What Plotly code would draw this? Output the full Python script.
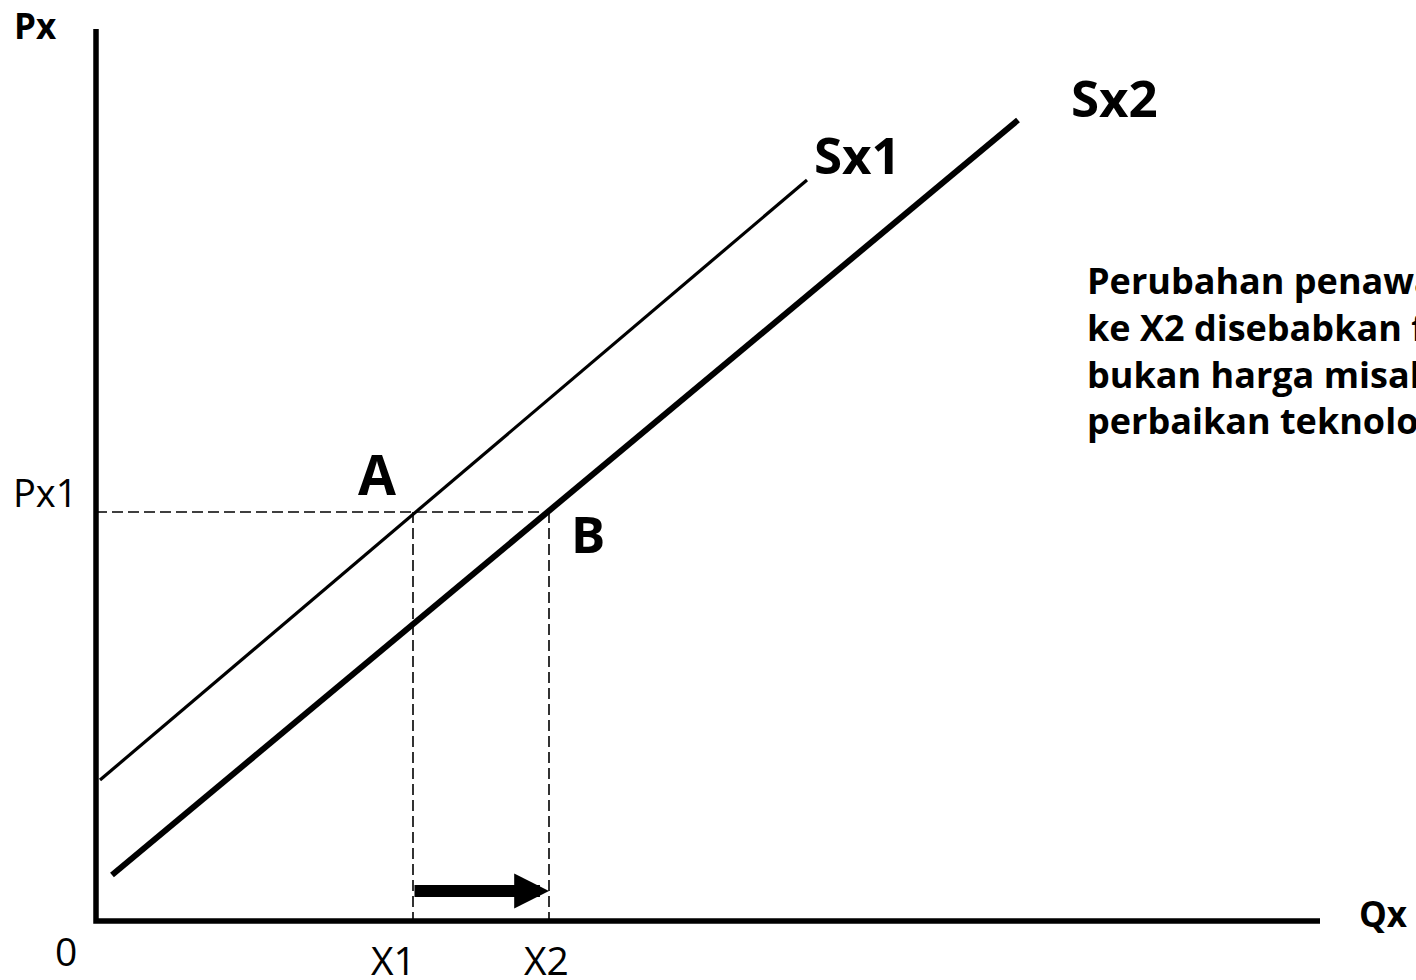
import plotly.graph_objects as go

# supply shift diagram (units: 1 = 100 px on screen, origin at the axes corner)
q_axis_max = 12.24
p_axis_max = 8.92

sx1_q = [0.04, 7.11]
sx1_p = [1.41, 7.41]
sx2_q = [0.16, 9.22]
sx2_p = [0.46, 8.01]

x1 = 3.17
x2 = 4.53
px1 = 4.09
arrow_p = 0.30

paragraph = [
    "Perubahan penawaran dari X1",
    "ke X2 disebabkan faktor",
    "bukan harga misalnya",
    "perbaikan teknologi",
]

FONT = "Open Sans"
BLACK = "#000000"

fig = go.Figure()

# axes drawn as a single L-shaped line
fig.add_trace(go.Scatter(x=[0, 0, q_axis_max], y=[p_axis_max, 0, 0], mode="lines",
                         line=dict(color=BLACK, width=5.5), hoverinfo="skip"))

# guide lines
dash = "11px,5px"
fig.add_trace(go.Scatter(x=[0, x2], y=[px1, px1], mode="lines",
                         line=dict(color=BLACK, width=1.6, dash=dash), hoverinfo="skip"))
for xv in (x1, x2):
    fig.add_trace(go.Scatter(x=[xv, xv], y=[px1, 0], mode="lines",
                             line=dict(color=BLACK, width=1.6, dash=dash), hoverinfo="skip"))

# supply curves
fig.add_trace(go.Scatter(x=sx1_q, y=sx1_p, mode="lines",
                         line=dict(color=BLACK, width=3.2), hoverinfo="skip"))
fig.add_trace(go.Scatter(x=sx2_q, y=sx2_p, mode="lines",
                         line=dict(color=BLACK, width=6), hoverinfo="skip"))

# shift arrow X1 -> X2
fig.add_annotation(x=x2, y=arrow_p, ax=x1, ay=arrow_p, xref="x", yref="y",
                   axref="x", ayref="y", text="", showarrow=True,
                   arrowhead=2, arrowsize=0.58, arrowwidth=12, arrowcolor=BLACK,
                   standoff=0, startstandoff=0)


def label(x, y, text, size, bold=True, **kw):
    fig.add_annotation(x=x, y=y, xref="x", yref="y", text=f"<b>{text}</b>" if bold else text,
                       showarrow=False, font=dict(family=FONT, size=size, color=BLACK), **kw)


label(-0.61, 8.96, "Px", 35)
label(12.87, 0.08, "Qx", 35)
label(-0.30, -0.29, "0", 39, bold=False)
label(2.97, -0.38, "X1", 39, bold=False)
label(4.50, -0.38, "X2", 39, bold=False)
label(-0.51, 4.29, "Px1", 38, bold=False)
label(2.81, 4.48, "A", 55)
label(4.92, 3.88, "B", 51)
label(7.61, 7.67, "Sx1", 51)
label(10.18, 8.24, "Sx2", 51)

# explanation text, runs past the right edge as in the source slide
label(9.89, 5.71, "<br>".join(paragraph), 36, xanchor="left", align="left")

fig.update_layout(
    width=1416, height=980,
    margin=dict(l=0, r=0, t=0, b=0),
    paper_bgcolor="white", plot_bgcolor="white",
    showlegend=False,
    xaxis=dict(range=[-0.96, 13.20], visible=False, fixedrange=True),
    yaxis=dict(range=[-0.59, 9.21], visible=False, fixedrange=True),
)

fig.write_html("out.html", config={"displayModeBar": False},
               post_script="document.body.style.margin='0px';document.body.style.overflow='hidden';")
